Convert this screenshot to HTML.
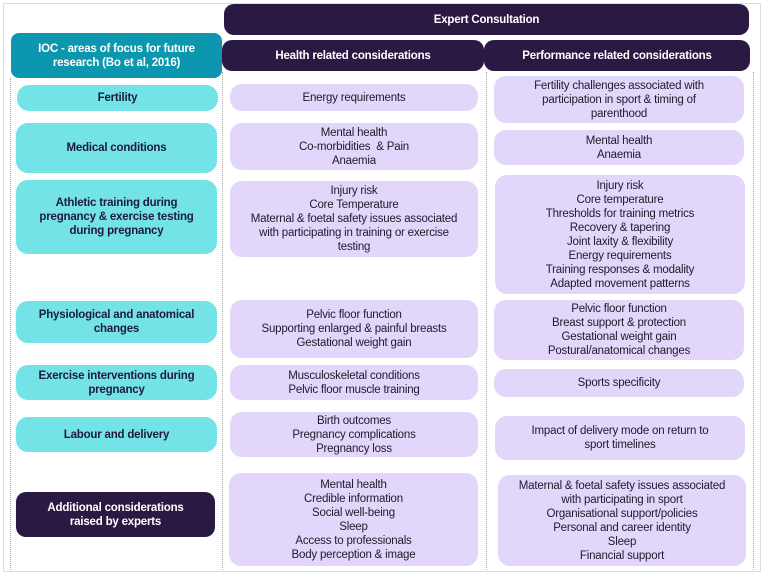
<!DOCTYPE html>
<html><head><style>
*{margin:0;padding:0;box-sizing:border-box}
body{width:766px;height:576px;background:#fff;position:relative;overflow:hidden;font-family:"Liberation Sans",sans-serif;color:#1e1a2a}
.b{position:absolute;display:flex;align-items:center;justify-content:center;text-align:center;font-size:11.5px;line-height:14px;border-radius:12px;letter-spacing:-0.2px}
.c{background:#74e3e8;font-weight:bold;color:#1e1a3a}
.l{background:#e3d6fb}
.d{background:#2a1942;color:#fff;font-weight:bold}
.v{position:absolute;border-left:1px dotted #aaa;width:0}
</style></head><body>
<div style="position:absolute;left:3px;top:3px;width:758px;height:569px;border:1px solid #ddd"></div>
<div class="v" style="left:10px;top:78px;height:492px"></div>
<div class="v" style="left:222px;top:72px;height:498px"></div>
<div class="v" style="left:486px;top:72px;height:498px"></div>
<div class="v" style="left:753px;top:72px;height:498px"></div>
<div style="position:absolute;left:11px;top:571px;width:743px;border-top:1px solid #ddd"></div>

<div class="b d" style="left:224px;top:4px;width:525px;height:31px;border-radius:10px">Expert Consultation</div>
<div class="b" style="left:11px;top:33px;width:211px;height:45px;background:#0c97ae;color:#fff;font-weight:bold;border-radius:8px">IOC - areas of focus for future<br>research (Bo et al, 2016)</div>
<div class="b d" style="left:222px;top:40px;width:262px;height:31px;border-radius:10px">Health related considerations</div>
<div class="b d" style="left:484px;top:40px;width:266px;height:31px;border-radius:10px">Performance related considerations</div>

<div class="b c" style="left:17px;top:85px;width:201px;height:26px">Fertility</div>
<div class="b c" style="left:16px;top:123px;width:201px;height:50px">Medical conditions</div>
<div class="b c" style="left:16px;top:180px;width:201px;height:74px">Athletic training during<br>pregnancy &amp; exercise testing<br>during pregnancy</div>
<div class="b c" style="left:16px;top:301px;width:201px;height:42px">Physiological and anatomical<br>changes</div>
<div class="b c" style="left:16px;top:365px;width:201px;height:35px">Exercise interventions during<br>pregnancy</div>
<div class="b c" style="left:16px;top:417px;width:201px;height:35px">Labour and delivery</div>
<div class="b d" style="left:16px;top:492px;width:199px;height:45px;border-radius:10px">Additional considerations<br>raised by experts</div>

<div class="b l" style="left:230px;top:84px;width:248px;height:27px">Energy requirements</div>
<div class="b l" style="left:230px;top:123px;width:248px;height:47px">Mental health<br>Co-morbidities &nbsp;&amp; Pain<br>Anaemia</div>
<div class="b l" style="left:230px;top:181px;width:248px;height:76px">Injury risk<br>Core Temperature<br>Maternal &amp; foetal safety issues associated<br>with participating in training or exercise<br>testing</div>
<div class="b l" style="left:230px;top:300px;width:248px;height:58px">Pelvic floor function<br>Supporting enlarged &amp; painful breasts<br>Gestational weight gain</div>
<div class="b l" style="left:230px;top:365px;width:248px;height:35px">Musculoskeletal conditions<br>Pelvic floor muscle training</div>
<div class="b l" style="left:230px;top:412px;width:248px;height:45px">Birth outcomes<br>Pregnancy complications<br>Pregnancy loss</div>
<div class="b l" style="left:229px;top:473px;width:249px;height:93px">Mental health<br>Credible information<br>Social well-being<br>Sleep<br>Access to professionals<br>Body perception &amp; image</div>

<div class="b l" style="left:494px;top:76px;width:250px;height:47px">Fertility challenges associated with<br>participation in sport &amp; timing of<br>parenthood</div>
<div class="b l" style="left:494px;top:130px;width:250px;height:35px">Mental health<br>Anaemia</div>
<div class="b l" style="left:495px;top:175px;width:250px;height:119px">Injury risk<br>Core temperature<br>Thresholds for training metrics<br>Recovery &amp; tapering<br>Joint laxity &amp; flexibility<br>Energy requirements<br>Training responses &amp; modality<br>Adapted movement patterns</div>
<div class="b l" style="left:494px;top:300px;width:250px;height:60px">Pelvic floor function<br>Breast support &amp; protection<br>Gestational weight gain<br>Postural/anatomical changes</div>
<div class="b l" style="left:494px;top:369px;width:250px;height:28px">Sports specificity</div>
<div class="b l" style="left:495px;top:416px;width:250px;height:44px">Impact of delivery mode on return to<br>sport timelines</div>
<div class="b l" style="left:498px;top:475px;width:248px;height:91px">Maternal &amp; foetal safety issues associated<br>with participating in sport<br>Organisational support/policies<br>Personal and career identity<br>Sleep<br>Financial support</div>
</body></html>
